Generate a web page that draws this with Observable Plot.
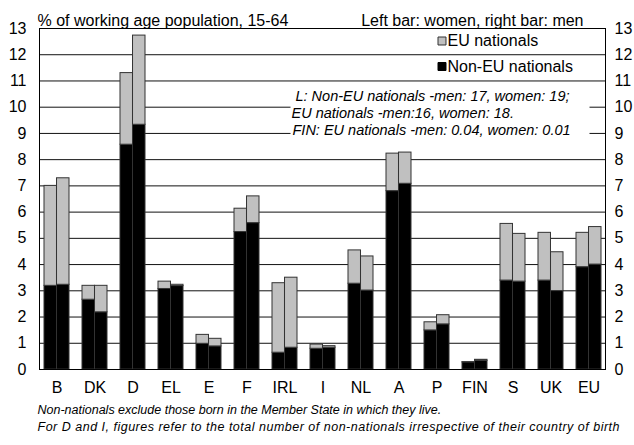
<!DOCTYPE html>
<html>
<head>
<meta charset="utf-8">
<script src="https://cdn.jsdelivr.net/npm/d3@7"></script>
<script src="https://cdn.jsdelivr.net/npm/@observablehq/plot@0.6"></script>
<style>
  body { margin: 0; background: #fff; }
  #chart svg { display: block; }
</style>
</head>
<body>
<div id="chart"></div>
<script>
const categories = ["B","DK","D","EL","E","F","IRL","I","NL","A","P","FIN","S","UK","EU"];
const womenNonEU = [3.19, 2.66, 8.57, 3.07, 0.98, 5.24, 0.64, 0.79, 3.27, 6.80, 1.49, 0.27, 3.39, 3.39, 3.90];
const womenEU    = [3.81, 0.53, 2.73, 0.28, 0.34, 0.89, 2.65, 0.16, 1.27, 1.43, 0.31, 0.01, 2.16, 1.82, 1.31];
const menNonEU   = [3.23, 2.18, 9.33, 3.18, 0.88, 5.58, 0.83, 0.83, 3.01, 7.08, 1.72, 0.33, 3.35, 2.99, 4.00];
const menEU      = [4.06, 1.01, 3.40, 0.05, 0.29, 1.02, 2.67, 0.06, 1.30, 1.19, 0.35, 0.04, 1.82, 1.48, 1.43];
const seriesNames = ["Non-EU nationals", "EU nationals"];
const yTicks = [0,1,2,3,4,5,6,7,8,9,10,11,12,13];

const titleLeft = "% of working age population, 15-64";
const titleRight = "Left bar: women, right bar: men";
const noteLines = [
  "L: Non-EU nationals -men: 17, women: 19;",
  "EU nationals -men:16, women: 18.",
  "FIN: EU nationals -men: 0.04, women: 0.01"
];
const footLines = [
  "Non-nationals exclude those born in the Member State in which they live.",
  "For D and I, figures refer to the total number of non-nationals irrespective of their country of birth"
];

function rowsFor(nonEU, eu) {
  const rows = [];
  categories.forEach((c, i) => {
    rows.push({country: c, type: seriesNames[0], value: nonEU[i]});
    rows.push({country: c, type: seriesNames[1], value: eu[i]});
  });
  return rows;
}
const women = rowsFor(womenNonEU, womenEU);
const men = rowsFor(menNonEU, menEU);

const W = 634, H = 445;
const mL = 39, mR = 29, mT = 28, mB = 76;
const padIn = 0.352;
const plotW = W - mL - mR;
const bw = plotW * (1 - padIn) / (categories.length - padIn);
const half = bw / 2;

const gray = "#c0c0c0";
const edge = "#333";

const txt = (s, o) => Plot.text([s], {text: d => d, lineAnchor: "bottom", ...o});

const chart = Plot.plot({
  width: W,
  height: H,
  marginLeft: mL,
  marginRight: mR,
  marginTop: mT,
  marginBottom: mB,
  style: {fontFamily: "Liberation Sans, Arial, sans-serif", fontSize: "16px", color: "#000", background: "#fff"},
  x: {type: "band", domain: categories, paddingInner: padIn, paddingOuter: 0, align: 0.5},
  y: {domain: [0, 13]},
  color: {domain: seriesNames, range: ["#000", gray]},
  marks: [
    Plot.ruleY(yTicks, {stroke: "#111", strokeWidth: 1}),
    Plot.frame({fill: "white", stroke: null, insetLeft: 251, insetRight: 16, insetTop: 58, insetBottom: 231}),
    Plot.barY(women, {x: "country", y: "value", fill: "type", stroke: edge, strokeWidth: 1, insetLeft: 0, insetRight: half}),
    Plot.barY(men, {x: "country", y: "value", fill: "type", stroke: edge, strokeWidth: 1, insetLeft: half, insetRight: 0}),
    Plot.frame({stroke: "#000", strokeWidth: 1}),
    Plot.axisY({anchor: "left", ticks: yTicks, tickSize: 0, tickPadding: 13, label: null}),
    Plot.axisY({anchor: "right", ticks: yTicks, tickSize: 0, tickPadding: 9, label: null}),
    Plot.axisX({tickSize: 0, tickPadding: 12, label: null}),
    txt(titleLeft, {frameAnchor: "top-left", textAnchor: "start", dx: -2, dy: -3}),
    txt(titleRight, {frameAnchor: "top-right", textAnchor: "end", dx: -22, dy: -3}),
    Plot.dot([0], {frameAnchor: "top-left", dx: 402.5, dy: 12.5, symbol: "square", r: 4.5, fill: gray, stroke: edge, strokeWidth: 1}),
    Plot.dot([0], {frameAnchor: "top-left", dx: 402.5, dy: 38, symbol: "square", r: 4.5, fill: "#000", stroke: "#000", strokeWidth: 1}),
    txt(seriesNames[1], {frameAnchor: "top-left", textAnchor: "start", dx: 408, dy: 17}),
    txt(seriesNames[0], {frameAnchor: "top-left", textAnchor: "start", dx: 408, dy: 43}),
    txt(noteLines[0], {frameAnchor: "top-left", textAnchor: "start", dx: 256, dy: 72, fontStyle: "italic", fontSize: 14.5}),
    txt(noteLines[1], {frameAnchor: "top-left", textAnchor: "start", dx: 252, dy: 89, fontStyle: "italic", fontSize: 14.5}),
    txt(noteLines[2], {frameAnchor: "top-left", textAnchor: "start", dx: 253, dy: 106, fontStyle: "italic", fontSize: 14.5}),
    txt(footLines[0], {frameAnchor: "bottom-left", textAnchor: "start", dx: -2, dy: 44.5, fontStyle: "italic", fontSize: 12.5}),
    txt(footLines[1], {frameAnchor: "bottom-left", textAnchor: "start", dx: -2, dy: 61.5, fontStyle: "italic", fontSize: 12.5})
  ]
});
// slightly wider tracking on the long footnote line, as in the reference
chart.querySelectorAll("text").forEach(t => {
  if (t.textContent === footLines[1]) t.style.letterSpacing = "0.5px";
});
document.getElementById("chart").appendChild(chart);
</script>
</body>
</html>
